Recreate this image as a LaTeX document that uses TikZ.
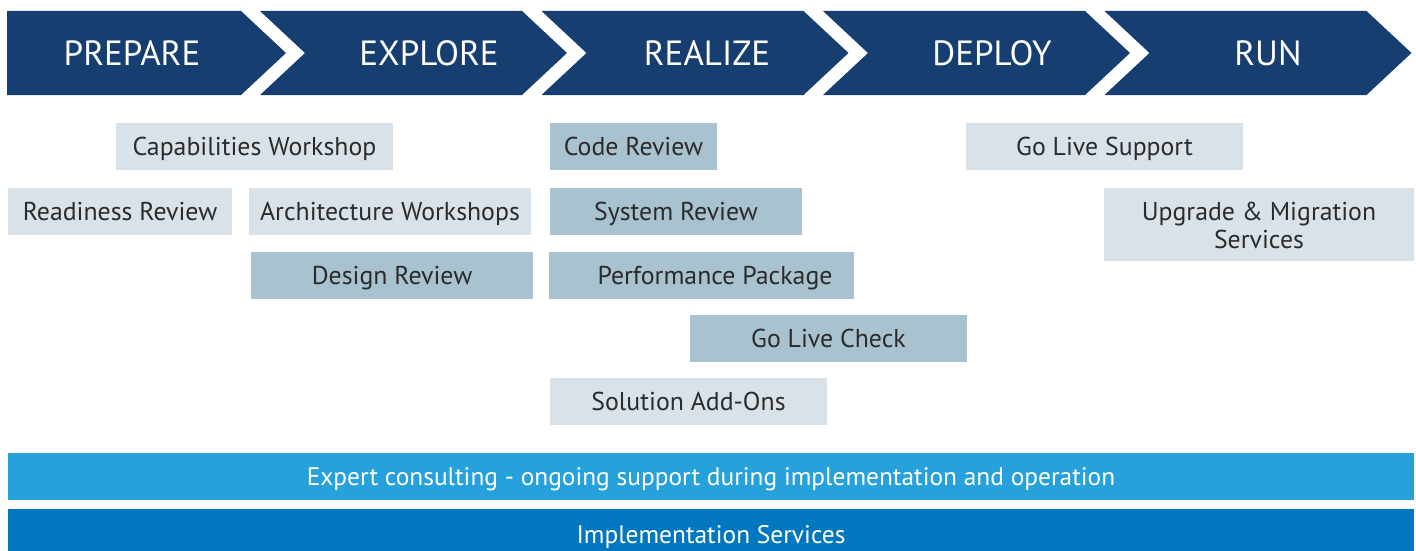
\documentclass[tikz,border=0pt]{standalone}
\usepackage{fontspec}
\setmainfont{PT Sans}
\definecolor{navy}{HTML}{173E70}
\definecolor{lightbox}{HTML}{DAE2E9}
\definecolor{darkbox}{HTML}{A8C2D0}
\definecolor{skybar}{HTML}{26A1DB}
\definecolor{deepbar}{HTML}{0077BE}
\definecolor{boxtext}{HTML}{2B2B2B}
\tikzset{
  chev/.style={fill=navy, draw=none},
  phase/.style={text=white, font=\fontsize{35}{38}\selectfont, inner sep=0pt, text height=32.5pt, text depth=8pt},
  svc/.style={draw=none, inner sep=0pt, text=boxtext, font=\fontsize{25.8}{28}\selectfont, text height=24pt, text depth=6pt, minimum height=47pt},
  lightsvc/.style={svc, fill=lightbox},
  darksvc/.style={svc, fill=darkbox},
  bar/.style={draw=none, inner sep=0pt, text=white, font=\fontsize{25.4}{28}\selectfont, text height=23.8pt, text depth=6pt, minimum width=1406pt},
}
\begin{document}
\begin{tikzpicture}[x=1pt, y=-1pt]
\useasboundingbox (0,0) rectangle (1416,551);
% chevrons
\path[chev] (7,11) -- (241,11) -- (286,53) -- (241,95) -- (7,95) -- cycle;
\foreach \xl in {260,541.5,823,1104.5}{
  \path[chev] (\xl,11) -- ({\xl+262},11) -- ({\xl+307},53) -- ({\xl+262},95) -- (\xl,95) -- ({\xl+45},53) -- cycle;
}
\node[phase] (prepare) at (132,53) {PREPARE};
\node[phase] (explore) at (429,53) {EXPLORE};
\node[phase] (realize) at (707,53) {REALIZE};
\node[phase] (deploy) at (992,53) {DEPLOY};
\node[phase] (run) at (1268,53) {RUN};
% service boxes
\node[lightsvc, minimum width=277pt] (capab) at (254.5,146.5) {Capabilities Workshop};
\node[lightsvc, minimum width=224pt] (ready) at (120,211.5) {Readiness Review};
\node[lightsvc, minimum width=282pt] (arch) at (390,211.5) {Architecture Workshops};
\node[darksvc, minimum width=282pt] (design) at (392,275.5) {Design Review};
\node[darksvc, minimum width=167pt] (code) at (633.5,146.5) {Code Review};
\node[darksvc, minimum width=252pt] (system) at (676,211.5) {System Review};
\node[darksvc, minimum width=305pt] (perf) at (701.5,275.5) {\hspace*{27pt}Performance Package};
\node[darksvc, minimum width=277pt] (golivecheck) at (828.5,338.5) {Go Live Check};
\node[lightsvc, minimum width=277pt] (addons) at (688.5,401.5) {Solution Add-Ons};
\node[lightsvc, minimum width=277pt] (golivesupport) at (1104.5,146.5) {Go Live Support};
\node[lightsvc, minimum width=310pt, minimum height=73pt, align=center, text height=53pt, text depth=6pt, font=\fontsize{25.8}{28}\selectfont] (upgrade) at (1259,224.5) {Upgrade \& Migration\\Services};
% bottom bars
\node[bar, fill=skybar, minimum height=47pt] (expert) at (711,476.5) {Expert consulting - ongoing support during implementation and operation};
\node[bar, fill=deepbar, minimum height=52pt] (impl) at (711,535) {Implementation Services};
\end{tikzpicture}
\end{document}
